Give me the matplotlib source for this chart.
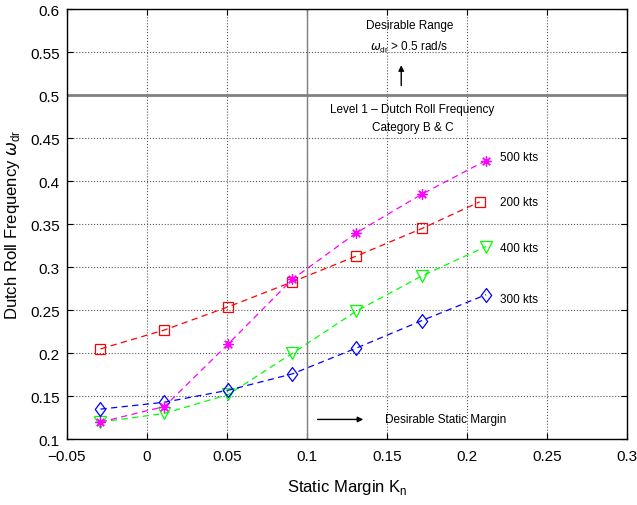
import numpy as np
import matplotlib
matplotlib.use('Agg')
import matplotlib.pyplot as plt
from matplotlib.path import Path

plt.rcParams['font.family'] = ['Liberation Sans', 'DejaVu Sans']

# static margin (x) and dutch roll frequency per speed
kn = [-0.029, 0.011, 0.051, 0.091, 0.131, 0.172, 0.212]
kn_200 = [-0.029, 0.011, 0.051, 0.091, 0.131, 0.172, 0.208]
w_200 = [0.205, 0.227, 0.254, 0.283, 0.313, 0.345, 0.376]
w_500 = [0.120, 0.138, 0.211, 0.286, 0.340, 0.385, 0.424]
w_400 = [0.120, 0.130, 0.152, 0.200, 0.249, 0.290, 0.324]
w_300 = [0.135, 0.143, 0.157, 0.176, 0.206, 0.238, 0.268]
labels = ['500 kts', '200 kts', '400 kts', '300 kts']

# matlab-like diamond, a bit taller than wide
diamond = Path([(0, 1), (0.75, 0), (0, -1), (-0.75, 0), (0, 1)],
               [Path.MOVETO, Path.LINETO, Path.LINETO, Path.LINETO, Path.CLOSEPOLY])

fig = plt.figure(figsize=(6.37, 5.06), dpi=100)
ax = fig.add_axes([0.105, 0.130, 0.879, 0.850])

dash = (5, 3.5)
ax.plot(kn_200, w_200, '--', dashes=dash, color='#ff0000', lw=0.9, marker='s', ms=7, mfc='none', mew=0.9)
ax.plot(kn, w_400, '--', dashes=dash, color='#00ff00', lw=0.9, marker='v', ms=8.5, mfc='none', mew=0.9)
ax.plot(kn, w_300, '--', dashes=dash, color='#0000ff', lw=0.9, marker=diamond, ms=10, mfc='none', mew=0.9)
ax.plot(kn, w_500, '--', dashes=dash, color='#ff00ff', lw=0.9, marker=(8, 2, 0), ms=7.5, mew=0.9)

# requirement lines
ax.axhline(0.5, color='#808080', lw=2)
ax.axvline(0.1, color='#808080', lw=1)

fs = 8.5
ax.text(0.2205, 0.428, labels[0], fontsize=fs, va='center')
ax.text(0.2205, 0.376, labels[1], fontsize=fs, va='center')
ax.text(0.2205, 0.322, labels[2], fontsize=fs, va='center')
ax.text(0.2205, 0.263, labels[3], fontsize=fs, va='center')

ax.text(0.164, 0.581, 'Desirable Range', fontsize=fs, ha='center', va='center')
ax.text(0.164, 0.557, r'$\omega_{\mathregular{dr}}$ > 0.5 rad/s', fontsize=fs, ha='center', va='center')
ax.annotate('', xy=(0.159, 0.538), xytext=(0.159, 0.508),
            arrowprops=dict(arrowstyle='-|>', color='k', lw=1, mutation_scale=8))
ax.text(0.166, 0.484, 'Level 1 \u2013 Dutch Roll Frequency', fontsize=fs, ha='center', va='center')
ax.text(0.166, 0.463, 'Category B & C', fontsize=fs, ha='center', va='center')

ax.annotate('', xy=(0.137, 0.123), xytext=(0.105, 0.123),
            arrowprops=dict(arrowstyle='-|>', color='k', lw=1, mutation_scale=8))
ax.text(0.149, 0.123, 'Desirable Static Margin', fontsize=fs, va='center')

ax.set_xlim(-0.05, 0.3)
ax.set_ylim(0.1, 0.6)
ax.set_xticks(np.arange(-0.05, 0.301, 0.05))
ax.set_yticks(np.arange(0.1, 0.601, 0.05))
ax.set_xticklabels(['\u22120.05', '0', '0.05', '0.1', '0.15', '0.2', '0.25', '0.3'])
ax.set_yticklabels(['0.1', '0.15', '0.2', '0.25', '0.3', '0.35', '0.4', '0.45', '0.5', '0.55', '0.6'])
ax.tick_params(labelsize=11, direction='in', length=4, top=True, right=True)
ax.tick_params(axis='x', pad=7)
ax.tick_params(axis='y', pad=5)
ax.grid(True, linestyle=':', color='#555555', lw=0.8)
for s in ax.spines.values():
    s.set_linewidth(1)

ax.set_xlabel(r'Static Margin K$_\mathregular{n}$', fontsize=12, labelpad=10)
ax.set_ylabel(r'Dutch Roll Frequency $\omega_{\mathregular{dr}}$', fontsize=12, labelpad=6)

fig.savefig('out.png', dpi=100)
